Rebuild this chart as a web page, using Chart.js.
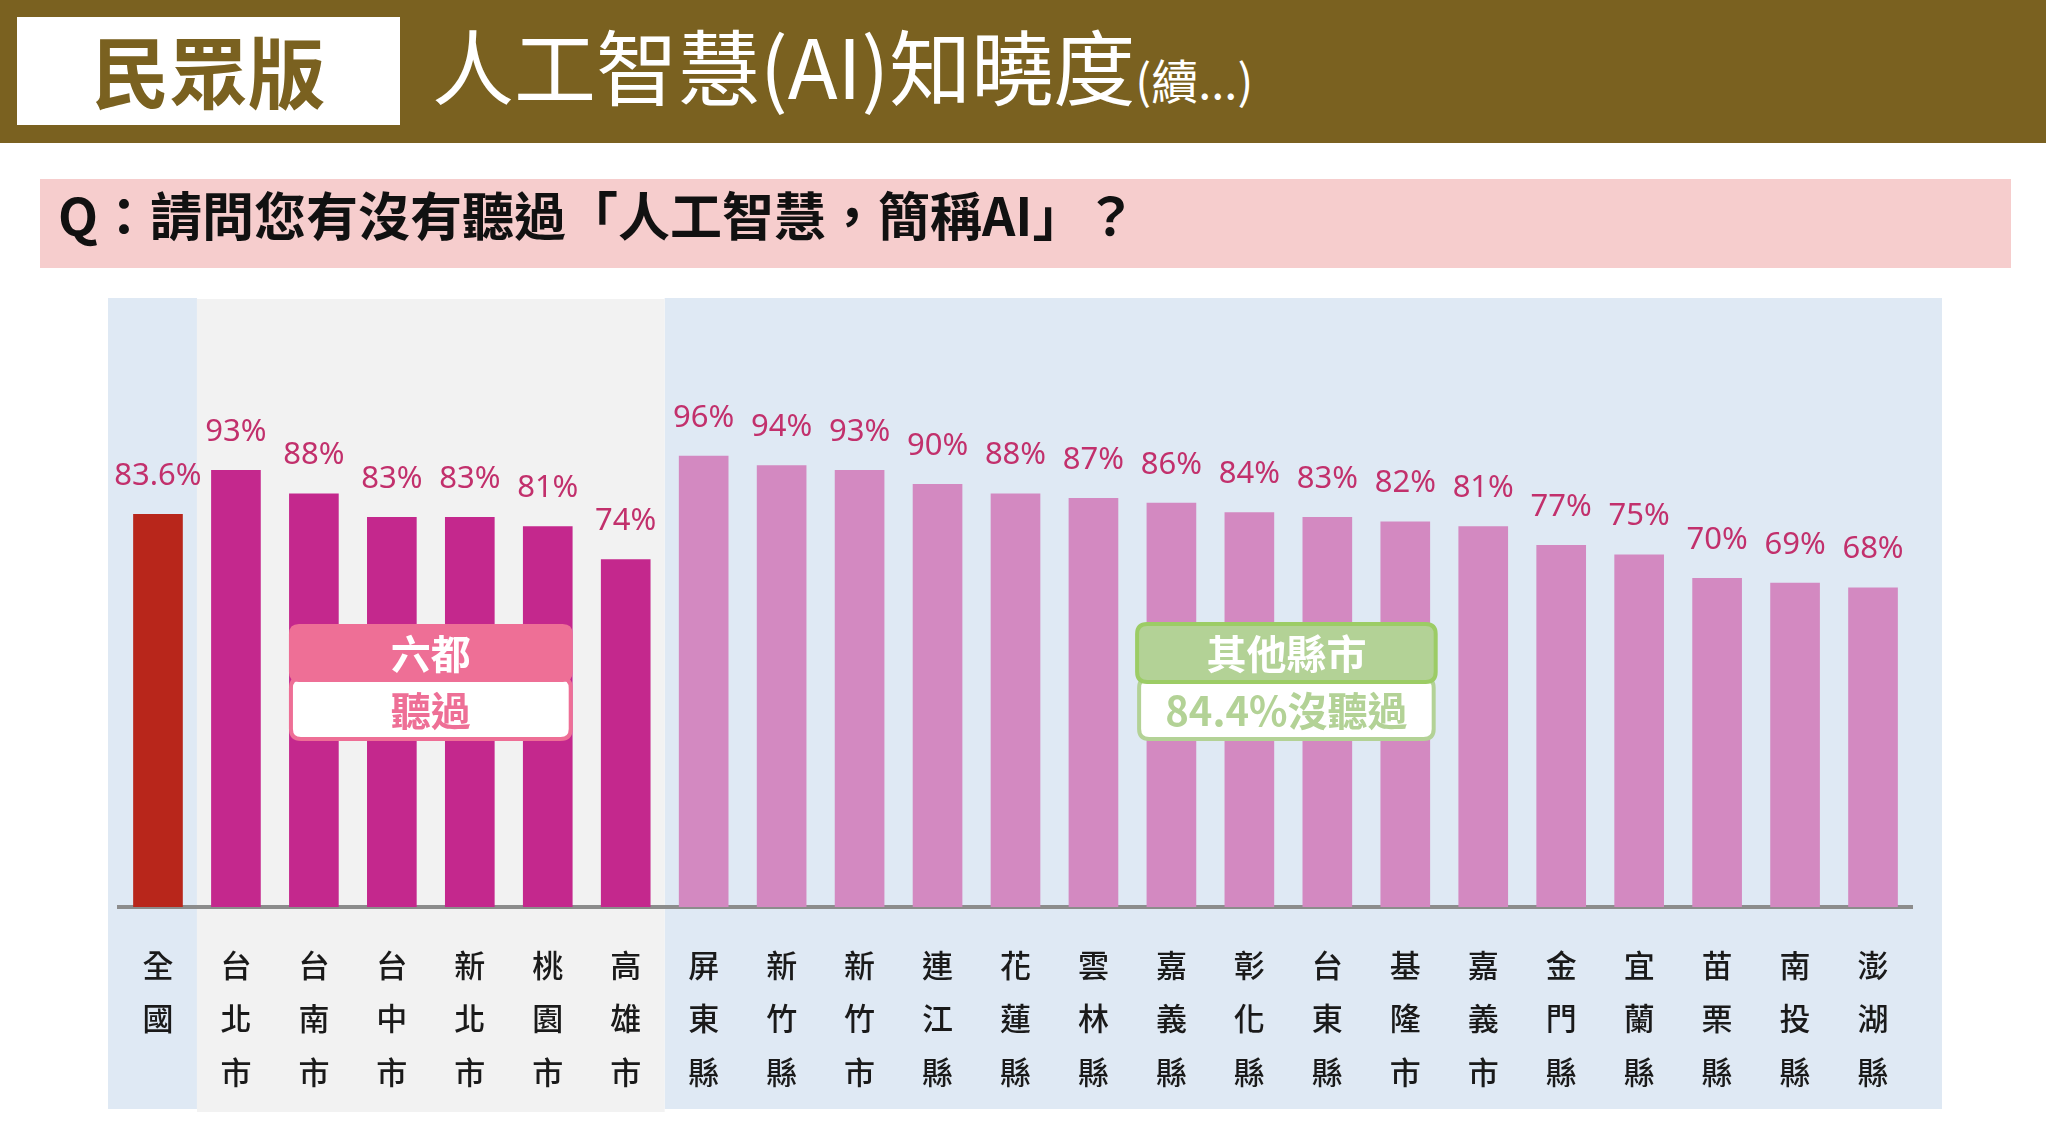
<!DOCTYPE html>
<html>
<head>
<meta charset="utf-8">
<script src="https://cdn.jsdelivr.net/npm/chart.js@4/dist/chart.umd.min.js"></script>
<style>
  html, body { margin: 0; padding: 0; background: #fff; }
  body { width: 2046px; height: 1144px; position: relative; overflow: hidden; font-family: "Noto Sans CJK TC", "Noto Sans", sans-serif; }
  #band { position: absolute; left: 0; top: 0; width: 2046px; height: 143px; background: #7a6120; }
  #badge { position: absolute; left: 17px; top: 17px; width: 383px; height: 108px; background: #fff; color: #7a6120;
           font-weight: 700; font-size: 78px; line-height: 104px; text-align: center; }
  #title { position: absolute; left: 432px; top: 9px; color: #fff; font-size: 82px; line-height: 110px; white-space: nowrap; }
  #title small { font-size: 47px; }
  #qbox { position: absolute; left: 40px; top: 179px; width: 1971px; height: 89px; background: #f6cdcd; }
  #qtext { position: absolute; left: 58px; top: 169px; height: 89px; line-height: 89px; font-size: 52px; font-weight: 700; color: #111; white-space: nowrap; }
  #wrap { position: absolute; left: 0; top: 280px; width: 2046px; height: 864px; }
</style>
</head>
<body>
<div id="band"></div>
<div id="badge">民眾版</div>
<div id="title">人工智慧(AI)知曉度<small>(續...)</small></div>
<div id="qbox"></div>
<div id="qtext">Q：請問您有沒有聽過「人工智慧，簡稱AI」？</div>
<div id="wrap"><canvas id="c"></canvas></div>
<script>
// ---- data ----
const categories = ['全國','台北市','台南市','台中市','新北市','桃園市','高雄市','屏東縣','新竹縣','新竹市','連江縣','花蓮縣','雲林縣','嘉義縣','彰化縣','台東縣','基隆市','嘉義市','金門縣','宜蘭縣','苗栗縣','南投縣','澎湖縣'];
const heardPct = [83.6, 93, 88, 83, 83, 81, 74, 96, 94, 93, 90, 88, 87, 86, 84, 83, 82, 81, 77, 75, 70, 69, 68];
const groupOf = ['nation','six','six','six','six','six','six','other','other','other','other','other','other','other','other','other','other','other','other','other','other','other','other'];
const sixLabelTop = '六都';
const sixLabelBottom = '聽過';
const otherLabelTop = '其他縣市';
const otherLabelBottom = '84.4%沒聽過';

const groupColors = { nation: '#b8261b', six: '#c4288d', other: '#d389c1' };

function roundRect(ctx, x, y, w, h, r) {
  ctx.beginPath();
  ctx.moveTo(x + r, y);
  ctx.lineTo(x + w - r, y);
  ctx.quadraticCurveTo(x + w, y, x + w, y + r);
  ctx.lineTo(x + w, y + h - r);
  ctx.quadraticCurveTo(x + w, y + h, x + w - r, y + h);
  ctx.lineTo(x + r, y + h);
  ctx.quadraticCurveTo(x, y + h, x, y + h - r);
  ctx.lineTo(x, y + r);
  ctx.quadraticCurveTo(x, y, x + r, y);
  ctx.closePath();
}

const bgPlugin = {
  id: 'bgRegions',
  beforeDraw(chart) {
    const { ctx, chartArea, scales } = chart;
    const x = scales.x;
    const top = chartArea.top + 2;
    const bottom = 829;
    const left = chartArea.left - 11;
    const b1 = x.getPixelForValue(0.5);
    const b2 = x.getPixelForValue(6.5);
    const right = chartArea.right + 30;
    ctx.save();
    ctx.fillStyle = '#dfe9f4';
    ctx.fillRect(left, top, b1 - left, bottom - top);
    ctx.fillRect(b2, top, right - b2, bottom - top);
    ctx.fillStyle = '#f2f2f2';
    ctx.fillRect(b1, top + 1, b2 - b1, bottom - top + 2);
    ctx.restore();
  }
};

const labelPlugin = {
  id: 'valueLabels',
  afterDatasetsDraw(chart) {
    const { ctx } = chart;
    const meta = chart.getDatasetMeta(0);
    ctx.save();
    ctx.font = '31px "Noto Sans", "Noto Sans CJK TC", sans-serif';
    ctx.fillStyle = '#c2306c';
    ctx.textAlign = 'center';
    ctx.textBaseline = 'middle';
    meta.data.forEach((bar, i) => {
      ctx.fillText(heardPct[i] + '%', bar.x, bar.y - 38);
    });
    ctx.restore();
  }
};

const boxPlugin = {
  id: 'groupBoxes',
  afterDatasetsDraw(chart) {
    const { ctx, scales } = chart;
    const x = scales.x;
    const step = x.getPixelForValue(1) - x.getPixelForValue(0);
    const y0 = 344, hTop = 58, hBot = 59;
    function drawBox(l, r, fillTop, borderTop, colorBot, borderBot, t1, t2) {
      const w = r - l;
      ctx.save();
      roundRect(ctx, l + 2, y0 + hTop - 4, w - 4, hBot + 2, 10);
      ctx.fillStyle = '#fff';
      ctx.fill();
      ctx.lineWidth = 4;
      ctx.strokeStyle = borderBot;
      ctx.stroke();
      roundRect(ctx, l, y0, w, hTop, 10);
      ctx.fillStyle = fillTop;
      ctx.fill();
      if (borderTop) { ctx.lineWidth = 4; ctx.strokeStyle = borderTop; ctx.stroke(); }
      ctx.textAlign = 'center';
      ctx.textBaseline = 'middle';
      ctx.font = '700 40px "Noto Sans CJK TC", sans-serif';
      ctx.fillStyle = '#fff';
      ctx.fillText(t1, l + w / 2, y0 + hTop / 2 + 1);
      ctx.fillStyle = colorBot;
      ctx.fillText(t2, l + w / 2, y0 + hTop + hBot / 2 - 1);
      ctx.restore();
    }
    const l1 = x.getPixelForValue(2) - 0.32 * step;
    const r1 = x.getPixelForValue(5) + 0.32 * step;
    drawBox(l1, r1, '#ee6f96', null, '#ee6f96', '#ee6f96', sixLabelTop, sixLabelBottom);
    const l2 = x.getPixelForValue(13) - 0.44 * step;
    const r2 = x.getPixelForValue(16) + 0.39 * step;
    drawBox(l2, r2, '#b3d296', '#9ccc65', '#b3d296', '#b3d296', otherLabelTop, otherLabelBottom);
  }
};

new Chart(document.getElementById('c'), {
  type: 'bar',
  data: {
    labels: categories,
    datasets: [{
      data: heardPct,
      backgroundColor: groupOf.map(g => groupColors[g]),
      borderWidth: 0,
      categoryPercentage: 1,
      barPercentage: 0.637
    }]
  },
  options: {
    responsive: true,
    maintainAspectRatio: false,
    animation: false,
    devicePixelRatio: 1,
    layout: { padding: { left: 119, right: 134, top: 16, bottom: 17 } },
    plugins: { legend: { display: false }, tooltip: { enabled: false } },
    scales: {
      x: {
        grid: { display: false, drawTicks: false },
        border: { display: true, color: '#8c8c8c', width: 4 },
        ticks: {
          autoSkip: false,
          maxRotation: 0,
          padding: 31,
          color: '#1a1a1a',
          font: { family: '"Noto Sans CJK TC", sans-serif', size: 31, weight: '500', lineHeight: 1.726 },
          callback: function(v) { return Array.from(this.getLabelForValue(v)); }
        },
        afterFit(scale) { scale.height = 220; }
      },
      y: {
        display: false,
        min: 0,
        max: 130
      }
    }
  },
  plugins: [bgPlugin, labelPlugin, boxPlugin]
});
</script>
</body>
</html>
